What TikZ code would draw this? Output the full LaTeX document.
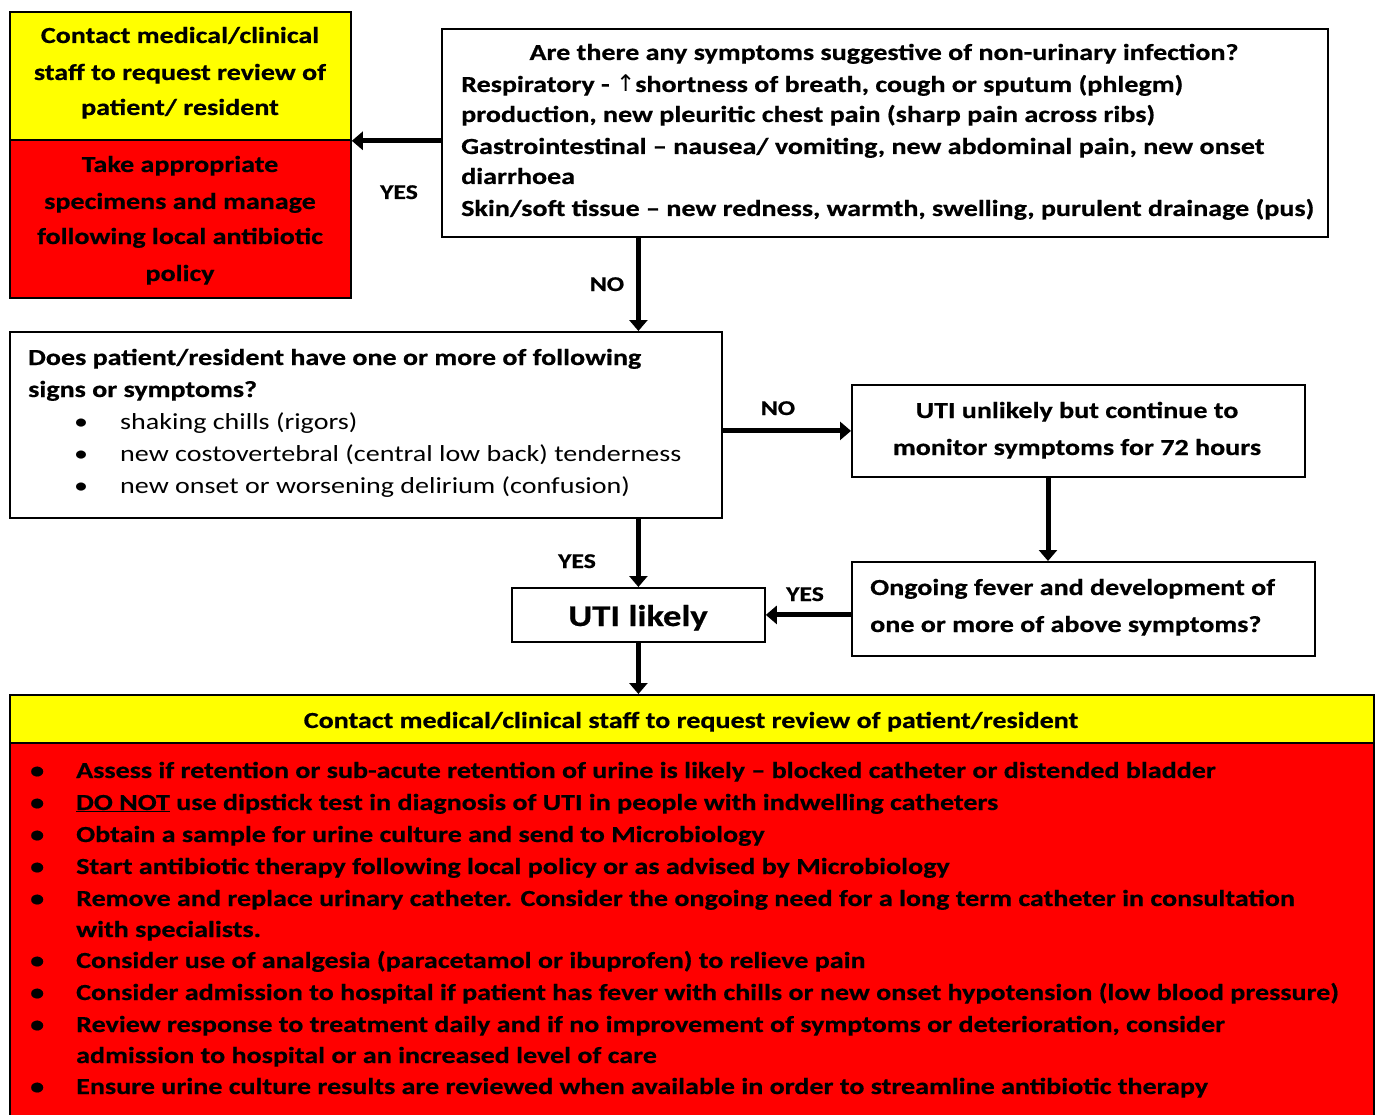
\documentclass[tikz,border=0pt]{standalone}
\usepackage{fontspec}
\setmainfont{Carlito}[FakeStretch=1.22, BoldFeatures={FakeBold=0.6}]
\newfontfamily\dejavu{DejaVu Sans}
\usetikzlibrary{arrows.meta}
\definecolor{myyellow}{RGB}{255,255,0}
\definecolor{myred}{RGB}{255,0,0}
\begin{document}
\begin{tikzpicture}[x=1pt,y=-1pt,
  box/.style={draw=black, line width=1.8pt, inner sep=0pt, anchor=north west},
  conn/.style={line width=5pt, -{Triangle[length=11pt,width=18pt]}},
  lbl/.style={font=\fontsize{21}{25}\selectfont\bfseries, inner sep=0pt, anchor=base},
  tb/.style={font=\fontsize{23}{31}\selectfont\bfseries, inner sep=0pt, anchor=base},
  tbl/.style={tb, anchor=base west},
  tr/.style={font=\fontsize{23}{31}\selectfont, inner sep=0pt, anchor=base west}]
\useasboundingbox (0,0) rectangle (1375,1115);
\fill[white] (0,0) rectangle (1375,1115);
% boxes
\node[box, fill=myyellow, minimum width=341pt, minimum height=128pt] (ly) at (9,11) {};
\node[box, fill=myred, minimum width=341pt, minimum height=158pt] (lr) at (9,139) {};
\node[box, fill=white, minimum width=886pt, minimum height=208pt] (trb) at (441,28) {};
\node[box, fill=white, minimum width=712pt, minimum height=186pt] (mid) at (9,331) {};
\node[box, fill=white, minimum width=453pt, minimum height=92pt] (un) at (851,384) {};
\node[box, fill=white, minimum width=463pt, minimum height=94pt] (on) at (851,561) {};
\node[box, fill=white, minimum width=253pt, minimum height=54pt] (uti) at (511,587) {};
\node[box, fill=myred, minimum width=1364pt, minimum height=430pt] (bot) at (9,694) {};
\node[box, fill=myyellow, minimum width=1364pt, minimum height=48pt] (both) at (9,694) {};
% connectors
\coordinate (c1) at (1048,0);
\draw[conn] (trb.west |- ly.south) -- (ly.south east);
\draw[conn] (trb.south -| uti.north) -- (mid.north -| uti.north);
\draw[conn] (mid.east |- un.west) -- (un.west);
\draw[conn] (un.south -| c1) -- (on.north -| c1);
\draw[conn] (on.west |- uti.east) -- (uti.east);
\draw[conn] (mid.south -| uti.north) -- (uti.north);
\draw[conn] (uti.south) -- (uti.south |- both.north);
% labels
\node[lbl] (l1) at (399,199) {YES};
\node[lbl] (l2) at (607,291) {NO};
\node[lbl] (l3) at (778,415) {NO};
\node[lbl] (l4) at (577,568) {YES};
\node[lbl] (l5) at (805,601) {YES};
% top-left texts
\node[tb] (a1) at (180,43) {Contact medical/clinical};
\node[tb] (a2) at (180,80) {staff to request review of};
\node[tb] (a3) at (180,115) {patient/ resident};
\node[tb] (b1) at (180,172) {Take appropriate};
\node[tb] (b2) at (180,209) {specimens and manage};
\node[tb] (b3) at (180,244) {following local antibiotic};
\node[tb] (b4) at (180,281) {policy};
% top-right texts
\node[tb] (c0) at (884,60) {Are there any symptoms suggestive of non-urinary infection?};
\node[tbl] (c2) at (461,92) {Respiratory - {\dejavu\mdseries ↑}shortness of breath, cough or sputum (phlegm)};
\node[tbl] (c3) at (461,122) {production, new pleuritic chest pain (sharp pain across ribs)};
\node[tbl] (c4) at (461,154) {Gastrointestinal – nausea/ vomiting, new abdominal pain, new onset};
\node[tbl] (c5) at (461,184) {diarrhoea};
\node[tbl] (c6) at (461,216) {Skin/soft tissue – new redness, warmth, swelling, purulent drainage (pus)};
% middle texts
\node[tbl] (d1) at (28,365) {Does patient/resident have one or more of following};
\node[tbl] (d2) at (28,397) {signs or symptoms?};
\node[tr] (e1) at (74,429) {\textbullet};
\node[tr] (e2) at (74,461) {\textbullet};
\node[tr] (e3) at (74,493) {\textbullet};
\node[tr] (f1) at (120,429) {shaking chills (rigors)};
\node[tr] (f2) at (120,461) {new costovertebral (central low back) tenderness};
\node[tr] (f3) at (120,493) {new onset or worsening delirium (confusion)};
% right texts
\node[tb] (g1) at (1077,418) {UTI unlikely but continue to};
\node[tb] (g2) at (1077,455) {monitor symptoms for 72 hours};
\node[tbl] (h1) at (870,595) {Ongoing fever and development of};
\node[tbl] (h2) at (870,632) {one or more of above symptoms?};
\node[font=\fontsize{30}{34}\selectfont\bfseries, inner sep=0pt, anchor=base] (u1) at (638,626) {UTI likely};
% bottom texts
\node[tb] (k0) at (691,728) {Contact medical/clinical staff to request review of patient/resident};
\foreach \yy [count=\i] in {778,810,842,874,906,968,1000,1032,1094}
  \node[tbl] (m\i) at (30,\yy) {\textbullet};
\node[tbl] (n1) at (76,778) {Assess if retention or sub-acute retention of urine is likely – blocked catheter or distended bladder};
\node[tbl] (n2) at (76,810) {\underline{DO NOT} use dipstick test in diagnosis of UTI in people with indwelling catheters};
\node[tbl] (n3) at (76,842) {Obtain a sample for urine culture and send to Microbiology};
\node[tbl] (n4) at (76,874) {Start antibiotic therapy following local policy or as advised by Microbiology};
\node[tbl] (n5) at (76,906) {Remove and replace urinary catheter. Consider the ongoing need for a long term catheter in consultation};
\node[tbl] (n6) at (76,937) {with specialists.};
\node[tbl] (n7) at (76,968) {Consider use of analgesia (paracetamol or ibuprofen) to relieve pain};
\node[tbl] (n8) at (76,1000) {Consider admission to hospital if patient has fever with chills or new onset hypotension (low blood pressure)};
\node[tbl] (n9) at (76,1032) {Review response to treatment daily and if no improvement of symptoms or deterioration, consider};
\node[tbl] (n10) at (76,1063) {admission to hospital or an increased level of care};
\node[tbl] (n11) at (76,1094) {Ensure urine culture results are reviewed when available in order to streamline antibiotic therapy};
\end{tikzpicture}
\end{document}
